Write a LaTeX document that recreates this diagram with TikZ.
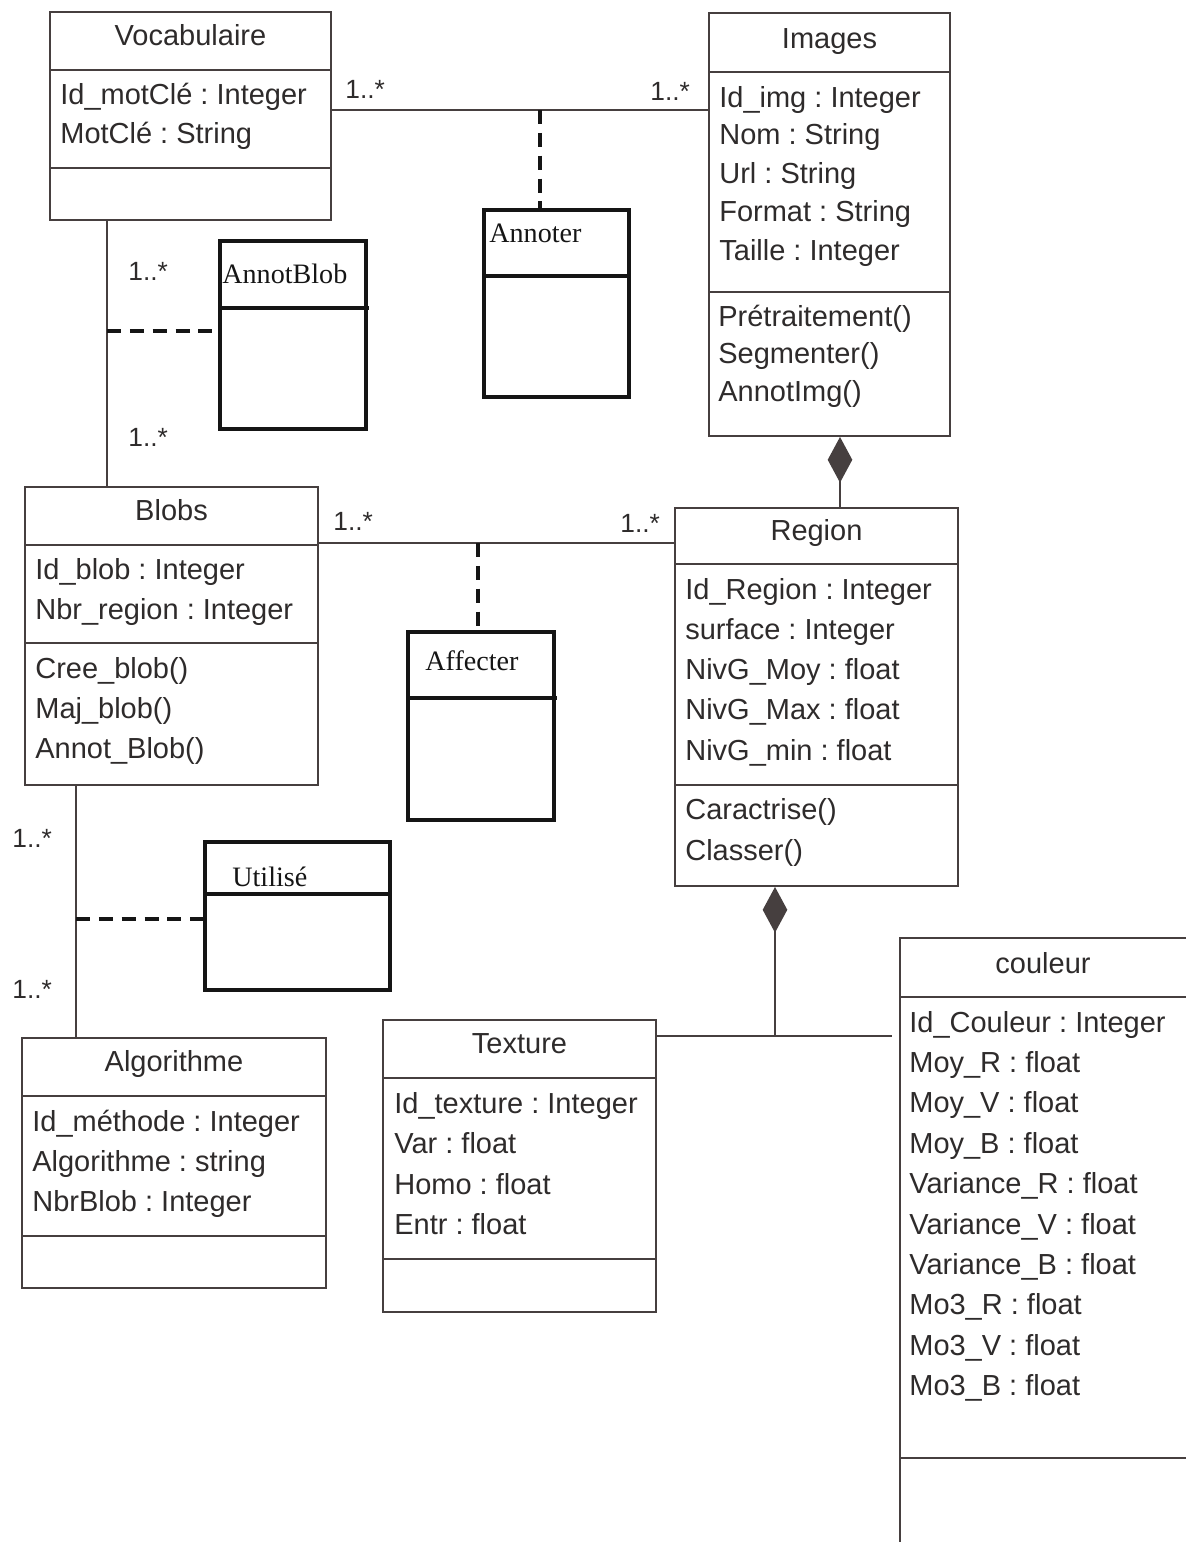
\documentclass[tikz,border=0pt]{standalone}
\usepackage{fontspec}
\setmainfont{Liberation Sans}
\newfontfamily\assocserif{Liberation Serif}
\usepackage{tikz}
\usepackage{xcolor}
\usetikzlibrary{arrows.meta,positioning,fit}
\definecolor{ink}     {HTML}{2E2B2B}
\definecolor{boxgray} {HTML}{463F3F}
\definecolor{assocink}{HTML}{151515}
\newcommand{\umlfont}{\fontsize{16.5pt}{20pt}\selectfont}
\newcommand{\multfont}{\fontsize{15pt}{18pt}\selectfont}
\newcommand{\assocfont}{\assocserif\fontsize{16pt}{19pt}\selectfont}
\frenchspacing
\tikzset{
  classbox/.style  ={draw=boxgray, line width=1.1pt, inner sep=0pt},
  classline/.style ={draw=boxgray, line width=1.1pt},
  assocbox/.style  ={draw=assocink, line width=2pt, inner sep=0pt},
  assocline/.style ={draw=assocink, line width=2pt},
  clsname/.style   ={font=\umlfont, text=ink, anchor=base, inner sep=0pt},
  attr/.style      ={font=\umlfont, text=ink, anchor=base west, inner sep=0pt},
  assocname/.style ={font=\assocfont, text=assocink, anchor=base west, inner sep=0pt},
  mult/.style      ={font=\multfont, text=ink, anchor=base west, inner sep=0pt},
  assoclink/.style ={draw=boxgray, line width=1.1pt},
  dashlink/.style  ={draw=assocink, line width=1.9pt, dash pattern=on 8pt off 5pt},
  compo/.style     ={draw=boxgray, line width=1.1pt, {Diamond[length=26pt,width=14pt]}-},
}

\begin{document}
\begin{tikzpicture}[x=0.02cm,y=-0.02cm]
    \useasboundingbox (0,0) rectangle (1186,1542);

    % Vocabulaire
    \node[classbox, fit={(50,12) (331,220)}] (voc) {};
    \draw[classline] (50,70) -- (331,70);
    \draw[classline] (50,168) -- (331,168);
    \node[clsname] (vocname) at (190.5,45) {Vocabulaire};
    \node[attr] (voca1) at (60,104) {Id\_motClé : Integer};
    \node[attr] (voca2) at (60,143) {MotClé : String};

    % Images
    \node[classbox, fit={(709,13) (950,436)}] (img) {};
    \draw[classline] (709,72) -- (950,72);
    \draw[classline] (709,292) -- (950,292);
    \node[clsname] (imgname) at (829.5,48) {Images};
    \node[attr] (imga1) at (719,107) {Id\_img : Integer};
    \node[attr] (imga2) at (719,144) {Nom : String};
    \node[attr] (imga3) at (719,183) {Url : String};
    \node[attr] (imga4) at (719,221) {Format : String};
    \node[attr] (imga5) at (719,260) {Taille : Integer};
    \node[attr] (imgm1) at (718,326) {Prétraitement()};
    \node[attr] (imgm2) at (718,363) {Segmenter()};
    \node[attr] (imgm3) at (718,401) {AnnotImg()};

    % Blobs
    \node[classbox, fit={(25,487) (318,785)}] (blobs) {};
    \draw[classline] (25,545) -- (318,545);
    \draw[classline] (25,643) -- (318,643);
    \node[clsname] (blobsname) at (171.5,520) {Blobs};
    \node[attr] (blobsa1) at (35,579) {Id\_blob : Integer};
    \node[attr] (blobsa2) at (35,619) {Nbr\_region : Integer};
    \node[attr] (blobsm1) at (35,678) {Cree\_blob()};
    \node[attr] (blobsm2) at (35,718) {Maj\_blob()};
    \node[attr] (blobsm3) at (35,758) {Annot\_Blob()};

    % Region
    \node[classbox, fit={(675,508) (958,886)}] (reg) {};
    \draw[classline] (675,564) -- (958,564);
    \draw[classline] (675,785) -- (958,785);
    \node[clsname] (regname) at (816.5,540) {Region};
    \node[attr] (rega1) at (685,599) {Id\_Region : Integer};
    \node[attr] (rega2) at (685,639) {surface : Integer};
    \node[attr] (rega3) at (685,679) {NivG\_Moy : float};
    \node[attr] (rega4) at (685,719) {NivG\_Max : float};
    \node[attr] (rega5) at (685,760) {NivG\_min : float};
    \node[attr] (regm1) at (685,819) {Caractrise()};
    \node[attr] (regm2) at (685,860) {Classer()};

    % Algorithme
    \node[classbox, fit={(22,1038) (326,1288)}] (algo) {};
    \draw[classline] (22,1096) -- (326,1096);
    \draw[classline] (22,1236) -- (326,1236);
    \node[clsname] (algoname) at (174,1071) {Algorithme};
    \node[attr] (algoa1) at (32,1131) {Id\_méthode : Integer};
    \node[attr] (algoa2) at (32,1171) {Algorithme : string};
    \node[attr] (algoa3) at (32,1211) {NbrBlob : Integer};

    % Texture
    \node[classbox, fit={(383,1020) (656,1312)}] (tex) {};
    \draw[classline] (383,1078) -- (656,1078);
    \draw[classline] (383,1259) -- (656,1259);
    \node[clsname] (texname) at (519.5,1053) {Texture};
    \node[attr] (texa1) at (394,1113) {Id\_texture : Integer};
    \node[attr] (texa2) at (394,1153) {Var : float};
    \node[attr] (texa3) at (394,1194) {Homo : float};
    \node[attr] (texa4) at (394,1234) {Entr : float};

    % couleur (runs off the page)
    \node[classbox, fit={(900,938) (1192,1560)}] (col) {};
    \draw[classline] (900,997) -- (1192,997);
    \draw[classline] (900,1458) -- (1192,1458);
    \node[clsname] (colname) at (1043,973) {couleur};
    \node[attr] (cola1)  at (909,1032) {Id\_Couleur : Integer};
    \node[attr] (cola2)  at (909,1072) {Moy\_R : float};
    \node[attr] (cola3)  at (909,1112) {Moy\_V : float};
    \node[attr] (cola4)  at (909,1153) {Moy\_B : float};
    \node[attr] (cola5)  at (909,1193) {Variance\_R : float};
    \node[attr] (cola6)  at (909,1234) {Variance\_V : float};
    \node[attr] (cola7)  at (909,1274) {Variance\_B : float};
    \node[attr] (cola8)  at (909,1314) {Mo3\_R : float};
    \node[attr] (cola9)  at (909,1355) {Mo3\_V : float};
    \node[attr] (cola10) at (909,1395) {Mo3\_B : float};

    % association classes
    \node[assocbox, fit={(220,241) (366,429)}] (annotblob) {};
    \draw[assocline] (220,308) -- (369,308);
    \node[assocname] (annotblobname) at (222,283) {AnnotBlob};

    \node[assocbox, fit={(484,210) (629,397)}] (annoter) {};
    \draw[assocline] (484,276) -- (629,276);
    \node[assocname] (annotername) at (489,242) {Annoter};

    \node[assocbox, fit={(408,632) (554,820)}] (affecter) {};
    \draw[assocline] (408,698) -- (557,698);
    \node[assocname] (affectername) at (425,670) {Affecter};

    \node[assocbox, fit={(205,842) (390,990)}] (utilise) {};
    \draw[assocline] (205,894) -- (390,894);
    \node[assocname] (utilisename) at (232,886) {Utilisé};

    % associations
    \draw[assoclink] (voc.east |- 0,110) -- (img.west |- 0,110);
    \coordinate (vocimg) at (540,110);
    \draw[dashlink] (vocimg) -- (vocimg |- annoter.north);
    \node[mult] (m1) at (345,98) {1..*};
    \node[mult] (m2) at (650,100) {1..*};

    \draw[assoclink] (107,0 |- voc.south) -- (107,0 |- blobs.north);
    \coordinate (vocblob) at (107,331);
    \draw[dashlink] (vocblob) -- (vocblob -| annotblob.west);
    \node[mult] (m3) at (128,280) {1..*};
    \node[mult] (m4) at (128,446) {1..*};

    \draw[assoclink] (blobs.east |- 0,543) -- (reg.west |- 0,543);
    \coordinate (blobreg) at (478,543);
    \draw[dashlink] (blobreg) -- (blobreg |- affecter.north);
    \node[mult] (m5) at (333,530) {1..*};
    \node[mult] (m6) at (620,532) {1..*};

    \draw[assoclink] (76,0 |- blobs.south) -- (76,0 |- algo.north);
    \coordinate (blobalgo) at (76,919);
    \draw[dashlink] (blobalgo) -- (blobalgo -| utilise.west);
    \node[mult] (m7) at (12,847) {1..*};
    \node[mult] (m8) at (12,998) {1..*};

    % compositions
    \draw[compo] (840,0 |- img.south) -- (840,0 |- reg.north);
    \coordinate (regjoin) at (775,1036);
    \draw[compo] (regjoin |- reg.south) -- (regjoin);
    \draw[assoclink, shorten >=4pt] (tex.east |- regjoin) -- (col.west |- regjoin);
  \end{tikzpicture}
\end{document}
